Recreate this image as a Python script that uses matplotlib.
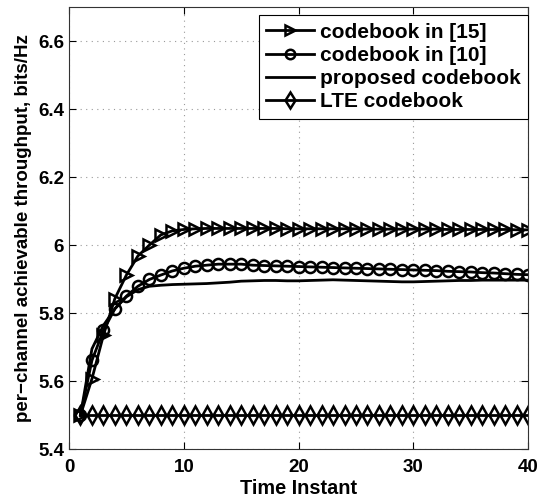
import numpy as np
import matplotlib
matplotlib.use("Agg")
import matplotlib.pyplot as plt

plt.rcParams['font.family'] = ['Liberation Sans', 'DejaVu Sans']
plt.rcParams['font.weight'] = 'bold'

t = np.arange(1, 41)

cb15 = [5.50, 5.607, 5.735, 5.843, 5.912, 5.968, 6.000, 6.030, 6.042, 6.046,
        6.048, 6.049, 6.049, 6.049, 6.049, 6.049, 6.049, 6.049, 6.048, 6.048,
        6.048, 6.048, 6.048, 6.048, 6.048, 6.047, 6.047, 6.047, 6.047, 6.047,
        6.047, 6.047, 6.046, 6.046, 6.046, 6.046, 6.046, 6.046, 6.045, 6.045]
cb10 = [5.50, 5.661, 5.749, 5.813, 5.850, 5.879, 5.899, 5.912, 5.924, 5.932,
        5.938, 5.941, 5.944, 5.944, 5.944, 5.941, 5.940, 5.939, 5.938, 5.937,
        5.936, 5.935, 5.934, 5.933, 5.932, 5.931, 5.930, 5.929, 5.928, 5.927,
        5.926, 5.925, 5.923, 5.922, 5.921, 5.919, 5.918, 5.916, 5.914, 5.913]
proposed = [5.50, 5.695, 5.764, 5.813, 5.848, 5.869, 5.879, 5.882, 5.884, 5.885,
            5.886, 5.887, 5.889, 5.891, 5.894, 5.895, 5.896, 5.896, 5.895, 5.895,
            5.896, 5.897, 5.898, 5.897, 5.896, 5.895, 5.894, 5.893, 5.892, 5.892,
            5.893, 5.894, 5.895, 5.896, 5.896, 5.897, 5.897, 5.897, 5.897, 5.897]
lte = [5.50] * 40

labels = ['codebook in [15]', 'codebook in [10]', 'proposed codebook', 'LTE codebook']

fig = plt.figure(figsize=(5.39, 5.03), dpi=100)
ax = fig.add_axes([0.128, 0.107, 0.852, 0.879])

ax.plot(t, cb15, color='k', lw=2, marker='>', ms=9, mew=1.8, mfc='none', label=labels[0])
ax.plot(t, cb10, color='k', lw=2, marker='o', ms=8, mew=1.8, mfc='none', label=labels[1])
ax.plot(t, proposed, color='k', lw=2, label=labels[2])
ax.plot(t, lte, color='k', lw=2, marker='d', ms=9, mew=1.8, mfc='none', label=labels[3])

ax.set_xlim(0, 40)
ax.set_ylim(5.4, 6.7)
ax.set_xticks([0, 10, 20, 30, 40])
ax.set_yticks([5.4, 5.6, 5.8, 6.0, 6.2, 6.4, 6.6])
ax.set_yticklabels(['5.4', '5.6', '5.8', '6', '6.2', '6.4', '6.6'])
ax.tick_params(direction='in', top=True, right=True, labelsize=13.5, length=5)
ax.tick_params(axis='x', pad=7)
ax.tick_params(axis='y', pad=3.5)
ax.grid(True, linestyle=(0, (1, 4)), color='#999999', lw=0.8)
for s in ax.spines.values():
    s.set_linewidth(0.8)
    s.set_color('#333333')

ax.set_xlabel('Time Instant', fontsize=14.3, fontweight='bold', labelpad=2)
ax.set_ylabel('per\u2212channel achievable throughput, bits/Hz', fontsize=13.5, fontweight='bold', labelpad=4)

leg = ax.legend(loc='upper right', bbox_to_anchor=(1.0, 0.981), fontsize=15, fancybox=False,
                edgecolor='k', framealpha=1, handlelength=2.3, borderaxespad=0,
                labelspacing=0.2, handletextpad=0.3, borderpad=0.35, markerscale=0.85)
leg.get_frame().set_linewidth(0.8)
for txt in leg.get_texts():
    txt.set_fontweight('bold')

fig.savefig('out.png', dpi=100)
